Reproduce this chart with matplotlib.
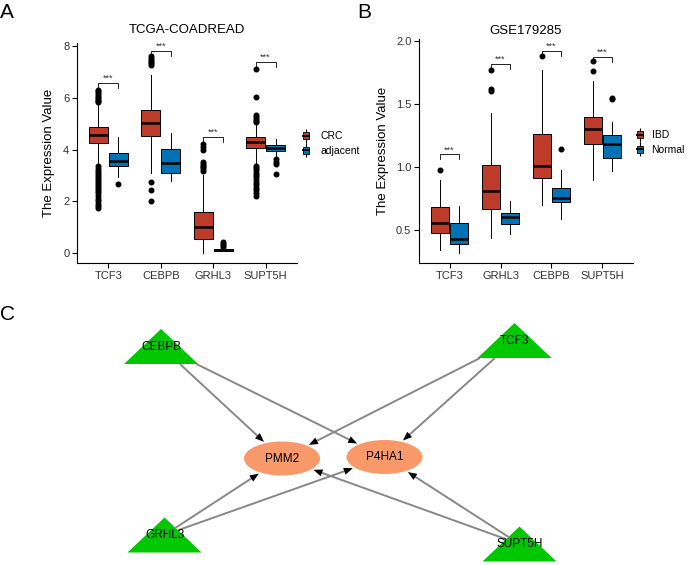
import numpy as np
import matplotlib

matplotlib.use("Agg")
import matplotlib.pyplot as plt
from matplotlib.lines import Line2D
from matplotlib.patches import Patch, Polygon, Ellipse
from matplotlib.path import Path

plt.rcParams["font.family"] = ["Liberation Sans", "DejaVu Sans"]

W, H = 689, 565

# ---- panel A: TCGA-COADREAD ----
A_genes = ["TCF3", "CEBPB", "GRHL3", "SUPT5H"]
A_crc_q1 = [4.27, 4.53, 0.55, 4.07]
A_crc_med = [4.58, 5.03, 1.02, 4.28]
A_crc_q3 = [4.88, 5.52, 1.60, 4.50]
A_crc_lo = [3.45, 3.08, 0.00, 3.45]
A_crc_hi = [5.75, 6.90, 3.03, 4.98]
A_crc_out = [
    [5.82, 5.88, 5.93, 5.98, 6.04, 6.10, 6.18, 6.25, 6.32,
     3.35, 3.25, 3.15, 3.08, 3.0, 2.92, 2.85, 2.78, 2.7, 2.62, 2.55, 2.48,
     2.4, 2.3, 2.2, 2.1, 2.0, 1.9, 1.82, 1.75],
    [7.27, 7.33, 7.4, 7.47, 7.55, 7.63, 2.74, 2.45, 1.99],
    [3.18, 3.25, 3.32, 3.38, 3.45, 3.52, 4.0, 4.1, 4.2],
    [5.05, 5.12, 5.18, 5.25, 5.32, 6.03, 7.13,
     3.38, 3.3, 3.2, 3.1, 3.0, 2.92, 2.82, 2.72, 2.62, 2.52, 2.42, 2.32, 2.22],
]
A_adj_q1 = [3.37, 3.09, 0.08, 3.93]
A_adj_med = [3.55, 3.46, 0.11, 4.05]
A_adj_q3 = [3.85, 4.01, 0.14, 4.17]
A_adj_lo = [2.92, 2.77, 0.06, 3.72]
A_adj_hi = [4.47, 4.65, 0.19, 4.40]
A_adj_out = [[2.68], [], [0.24, 0.3, 0.36, 0.42], [3.62, 3.52, 3.45, 3.05]]
A_sig = [6.58, 7.82, 4.48, 7.38]

# ---- panel B: GSE179285 ----
B_genes = ["TCF3", "GRHL3", "CEBPB", "SUPT5H"]
B_ibd_q1 = [0.474, 0.664, 0.91, 1.18]
B_ibd_med = [0.558, 0.81, 1.01, 1.305]
B_ibd_q3 = [0.68, 1.016, 1.26, 1.40]
B_ibd_lo = [0.34, 0.44, 0.70, 0.895]
B_ibd_hi = [0.90, 1.43, 1.77, 1.68]
B_ibd_out = [[0.98], [1.77, 1.62, 1.60], [1.88], [1.84, 1.76]]
B_nor_q1 = [0.39, 0.548, 0.725, 1.07]
B_nor_med = [0.43, 0.606, 0.75, 1.18]
B_nor_q3 = [0.558, 0.632, 0.83, 1.255]
B_nor_lo = [0.32, 0.465, 0.585, 0.97]
B_nor_hi = [0.69, 0.73, 0.98, 1.36]
B_nor_out = [[], [], [1.14], [1.54, 1.55]]
B_sig = [1.10, 1.817, 1.923, 1.876]

RED = "#BC3C29"
BLUE = "#0072B5"
TXT = "#333333"

# ---- panel C: network ----
tf_names = ["CEBPB", "TCF3", "GRHL3", "SUPT5H"]
tf_x = [161, 514.5, 164.5, 519.5]
tf_y = [346.5, 340.5, 535, 544]
tf_w, tf_h = 74, 35
tg_names = ["PMM2", "P4HA1"]
tg_x = [282, 384.5]
tg_y = [458.5, 457]
tg_w, tg_h = 76, 34
edges = [("CEBPB", "PMM2"), ("CEBPB", "P4HA1"), ("TCF3", "PMM2"), ("TCF3", "P4HA1"),
         ("GRHL3", "PMM2"), ("GRHL3", "P4HA1"), ("SUPT5H", "PMM2"), ("SUPT5H", "P4HA1")]


def fx(x):
    return x / W


def fy(y):
    return 1 - y / H


def stats(q1, med, q3, lo, hi, out):
    return [dict(q1=a, med=b, q3=c, whislo=d, whishi=e, fliers=f)
            for a, b, c, d, e, f in zip(q1, med, q3, lo, hi, out)]


def key(color):
    return (Line2D([], [], color="black", linestyle="None", marker="|",
                   markersize=10, markeredgewidth=0.8),
            Patch(facecolor=color, edgecolor="black", lw=0.6),
            Line2D([], [], color="black", lw=1.4))


def box_panel(ax, genes, g1, g2, sig, drop, labels, leg_xy, pad):
    pos = np.arange(1, len(genes) + 1)
    for st, off, col in ((g1, -0.19, RED), (g2, 0.19, BLUE)):
        ax.bxp(st, positions=pos + off, widths=0.36, patch_artist=True, showcaps=False,
               boxprops=dict(facecolor=col, edgecolor="black", lw=0.7),
               medianprops=dict(color="black", lw=1.8),
               whiskerprops=dict(color="black", lw=0.7),
               flierprops=dict(marker="o", markerfacecolor="black", markeredgecolor="black",
                               markersize=3.3))
    for p, y in zip(pos, sig):
        ax.plot([p - 0.19, p - 0.19, p + 0.19, p + 0.19], [y - drop, y, y, y - drop],
                color="black", lw=0.6)
        ax.text(p, y, "***", ha="center", va="bottom", fontsize=6.5, color=TXT)
    ax.set_xticks(pos)
    ax.set_xticklabels(genes)
    ax.set_xlim(0.4, len(genes) + 0.6)
    for s in ("top", "right"):
        ax.spines[s].set_visible(False)
    for s in ("left", "bottom"):
        ax.spines[s].set_linewidth(0.8)
    ax.tick_params(length=3.5, width=0.8, labelsize=8, labelcolor=TXT, pad=2)
    ax.set_ylabel("The Expression Value", fontsize=9.5)
    ax.legend([key(RED), key(BLUE)], labels, loc="center left",
              bbox_to_anchor=leg_xy, bbox_transform=ax.figure.transFigure,
              frameon=False, fontsize=7.5, handlelength=0.55, handleheight=0.65,
              handletextpad=pad, labelspacing=0.45, borderpad=0, borderaxespad=0)


fig = plt.figure(figsize=(W / 100, H / 100), dpi=100)

# network axes in pixel coordinates
axc = fig.add_axes([0, 0, 1, 1])
axc.set_xlim(0, W)
axc.set_ylim(H, 0)
axc.axis("off")

axa = fig.add_axes([fx(77), fy(263), fx(297) - fx(77), fy(43) - fy(263)])
box_panel(axa, A_genes,
          stats(A_crc_q1, A_crc_med, A_crc_q3, A_crc_lo, A_crc_hi, A_crc_out),
          stats(A_adj_q1, A_adj_med, A_adj_q3, A_adj_lo, A_adj_hi, A_adj_out),
          A_sig, 0.2, ["CRC", "adjacent"], (fx(303), fy(143.5)), 1.15)
axa.set_ylim(-0.39, 8.12)
axa.set_yticks([0, 2, 4, 6, 8])
axa.yaxis.set_label_coords(-0.098, 0.5)

axb = fig.add_axes([fx(419), fy(263), fx(633) - fx(419), fy(39) - fy(263)])
box_panel(axb, B_genes,
          stats(B_ibd_q1, B_ibd_med, B_ibd_q3, B_ibd_lo, B_ibd_hi, B_ibd_out),
          stats(B_nor_q1, B_nor_med, B_nor_q3, B_nor_lo, B_nor_hi, B_nor_out),
          B_sig, 0.04, ["IBD", "Normal"], (fx(637), fy(142.5)), 0.85)
axb.set_ylim(0.238, 2.016)
axb.set_yticks([0.5, 1.0, 1.5, 2.0])
axb.set_yticklabels(["0.5", "1.0", "1.5", "2.0"])
axb.yaxis.set_label_coords(-0.1425, 0.5)

fig.text(fx(187), fy(30), "TCGA-COADREAD", ha="center", va="center", fontsize=9.5)
fig.text(fx(526), fy(31), "GSE179285", ha="center", va="center", fontsize=9.5)
fig.text(fx(0), fy(13), "A", ha="left", va="center", fontsize=15)
fig.text(fx(357), fy(13), "B", ha="left", va="center", fontsize=15)
fig.text(fx(0), fy(314), "C", ha="left", va="center", fontsize=15)

# nodes
tri = {}
for n, x, y in zip(tf_names, tf_x, tf_y):
    verts = [(x, y - tf_h / 2), (x + tf_w / 2, y + tf_h / 2), (x - tf_w / 2, y + tf_h / 2)]
    tri[n] = (x, y, Path(verts + [verts[0]], closed=True))
    axc.add_patch(Polygon(verts, closed=True, facecolor="#00C800", edgecolor="none", zorder=3))
    axc.text(x, y, n, ha="center", va="center", fontsize=8.5, zorder=4)
ell = {}
for n, x, y in zip(tg_names, tg_x, tg_y):
    ell[n] = (x, y)
    axc.add_patch(Ellipse((x, y), tg_w, tg_h, facecolor="#F9996A", edgecolor="none", zorder=3))
    axc.text(x, y, n, ha="center", va="center", fontsize=8.5, zorder=4)

# edges: center to center, clipped at node borders
for s, t in edges:
    sx, sy, path = tri[s]
    tx, ty = ell[t]
    d = np.array([tx - sx, ty - sy])
    lo_t, hi_t = 0.0, 1.0
    for _ in range(40):
        mid = (lo_t + hi_t) / 2
        if path.contains_point((sx + mid * d[0], sy + mid * d[1])):
            lo_t = mid
        else:
            hi_t = mid
    start = np.array([sx, sy]) + lo_t * d
    a, b = tg_w / 2, tg_h / 2
    u = np.array([sx - tx, sy - ty])
    qa = d[0] ** 2 / a ** 2 + d[1] ** 2 / b ** 2
    qb = 2 * (u[0] * d[0] / a ** 2 + u[1] * d[1] / b ** 2)
    qc = u[0] ** 2 / a ** 2 + u[1] ** 2 / b ** 2 - 1
    te = (-qb - np.sqrt(qb ** 2 - 4 * qa * qc)) / (2 * qa)
    end = np.array([sx, sy]) + te * d
    uv = d / np.linalg.norm(d)
    nv = np.array([-uv[1], uv[0]])
    end = end - 2 * uv
    base = end - 9 * uv
    axc.plot([start[0], base[0] + 2 * uv[0]], [start[1], base[1] + 2 * uv[1]],
             color="#888888", lw=1.4, zorder=1, solid_capstyle="butt")
    axc.add_patch(Polygon([end, base + 3.6 * nv, base - 3.6 * nv], closed=True,
                          facecolor="black", edgecolor="none", zorder=2))

fig.savefig("out.png", dpi=100)
